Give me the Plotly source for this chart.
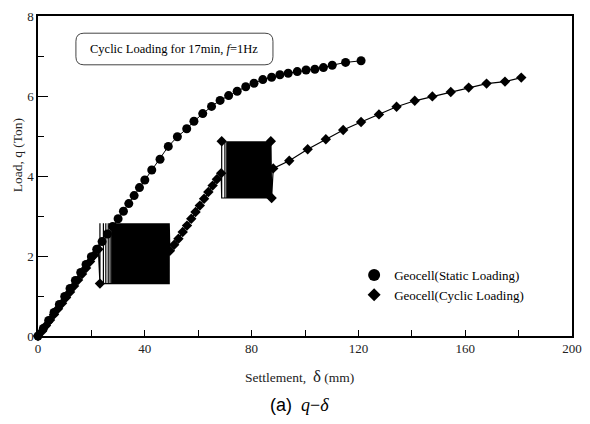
import numpy as np
import plotly.graph_objects as go

# ---------------- data ----------------
static_delta = [0, 2, 4, 6, 8, 10, 12, 14, 16, 18, 20, 22, 24, 26, 28, 30, 32, 34, 36, 38, 40,
                42.6, 45.7, 48.8, 52.2, 55.7, 58.4, 61.7, 65.0, 68.2, 71.4, 74.6, 77.8, 80.9,
                84.2, 87.5, 90.6, 93.7, 97.1, 100.4, 103.7, 106.9, 110.2, 115.2, 121.0]
static_q = [0, 0.19, 0.39, 0.59, 0.79, 0.99, 1.19, 1.39, 1.59, 1.79, 1.98, 2.17, 2.36, 2.55, 2.74,
            2.93, 3.12, 3.31, 3.51, 3.71, 3.9, 4.15, 4.42, 4.74, 4.98, 5.18, 5.37, 5.56, 5.74,
            5.89, 6.01, 6.12, 6.23, 6.32, 6.41, 6.47, 6.53, 6.57, 6.61, 6.65, 6.67, 6.71, 6.77,
            6.84, 6.88]

# cyclic test: monotonic parts between the two cyclic blocks
cyc_pre_delta = [0, 1.5, 3, 4.5, 6, 7.5, 9, 10.5, 12, 13.5, 15, 16.5, 18, 19.5, 21, 22.6]
cyc_pre_q = [0, 0.12, 0.26, 0.4, 0.54, 0.68, 0.82, 0.96, 1.1, 1.25, 1.4, 1.55, 1.7, 1.86, 2.02, 2.17]

cyc_mid_delta = [49.4, 51.0, 52.6, 54.2, 55.8, 57.4, 59.0, 60.6, 62.2, 63.8, 65.4, 67.0, 68.6]
cyc_mid_q = [2.13, 2.28, 2.43, 2.6, 2.76, 2.93, 3.1, 3.26, 3.43, 3.6, 3.76, 3.92, 4.07]

cyc_post_delta = [88.1, 94.1, 101.0, 107.8, 114.3, 121.0, 127.7, 134.3, 141.1, 147.7, 154.6,
                  161.3, 168.0, 174.9, 181.0]
cyc_post_q = [4.19, 4.38, 4.67, 4.92, 5.15, 5.35, 5.54, 5.73, 5.88, 5.99, 6.10, 6.21, 6.31,
              6.36, 6.46]

# cyclic loading blocks (17 min, f = 1 Hz): leading sparse cycles, dense cycle span, load range
block1_lead = [23.2, 24.5, 25.4, 26.3, 27.0]
block1_span = (27.6, 49.4)
block1_cycles = 260
block1_q = (1.31, 2.82)

block2_lead = [68.8, 70.0]
block2_span = (70.7, 87.5)
block2_cycles = 200
block2_q = (3.45, 4.87)

cyc_corner_delta = [23.2, 68.8, 87.2, 87.5]
cyc_corner_q = [1.31, 4.87, 4.87, 3.45]

x_ticks = [0, 40, 80, 120, 160, 200]
y_ticks = [0, 2, 4, 6, 8]


def block_path(lead, span, n, qr):
    xs = list(lead) + list(np.linspace(span[0], span[1], n))
    px, py = [], []
    for x in xs:
        px += [x, x, x]
        py += [qr[0], qr[1], qr[0]]
    return px, py


b1x, b1y = block_path(block1_lead, block1_span, block1_cycles, block1_q)
b2x, b2y = block_path(block2_lead, block2_span, block2_cycles, block2_q)

path_x = cyc_pre_delta + b1x + cyc_mid_delta + b2x + cyc_post_delta
path_y = cyc_pre_q + b1y + cyc_mid_q + b2y + cyc_post_q

mk_x = cyc_pre_delta + cyc_mid_delta + cyc_post_delta + cyc_corner_delta
mk_y = cyc_pre_q + cyc_mid_q + cyc_post_q + cyc_corner_q

SERIF = "Liberation Serif, Times New Roman, serif"

fig = go.Figure()

# cyclic loading line (incl. cycles)
fig.add_trace(go.Scatter(x=path_x, y=path_y, mode="lines",
                         line=dict(color="black", width=1.2), showlegend=False,
                         cliponaxis=False, hoverinfo="skip"))
fig.add_trace(go.Scatter(x=mk_x, y=mk_y, mode="markers",
                         marker=dict(symbol="diamond", size=8, color="black"),
                         showlegend=False, cliponaxis=False))
# static loading
fig.add_trace(go.Scatter(x=static_delta, y=static_q, mode="lines+markers",
                         line=dict(color="black", width=1),
                         marker=dict(symbol="circle", size=9, color="black"),
                         showlegend=False, cliponaxis=False))

# legend-only entries (markers only)
fig.add_trace(go.Scatter(x=[None], y=[None], mode="markers", name="Geocell(Static Loading)",
                         marker=dict(symbol="circle", size=12, color="black")))
fig.add_trace(go.Scatter(x=[None], y=[None], mode="markers", name="Geocell(Cyclic Loading)",
                         marker=dict(symbol="diamond", size=10, color="black")))

# rounded box for note (data coords)
bx0, bx1, by0, by1 = 14.2, 88.0, 6.78, 7.57
rx, ry = 3.0, 0.2
path = (f"M {bx0+rx},{by1} L {bx1-rx},{by1} Q {bx1},{by1} {bx1},{by1-ry} "
        f"L {bx1},{by0+ry} Q {bx1},{by0} {bx1-rx},{by0} L {bx0+rx},{by0} "
        f"Q {bx0},{by0} {bx0},{by0+ry} L {bx0},{by1-ry} Q {bx0},{by1} {bx0+rx},{by1} Z")
fig.add_shape(type="path", path=path, xref="x", yref="y",
              line=dict(color="#444", width=1), fillcolor="white", layer="above")
fig.add_annotation(x=(bx0 + bx1) / 2, y=(by0 + by1) / 2, xref="x", yref="y",
                   text="Cyclic Loading for 17min, <i>f</i>=1Hz", showarrow=False,
                   font=dict(family=SERIF, size=12.5, color="black"))

# axis titles and caption
fig.add_annotation(x=-0.0385, y=0.566, xref="paper", yref="paper", text="Load, q (Ton)",
                   textangle=-90, showarrow=False, xanchor="center", yanchor="middle",
                   font=dict(family=SERIF, size=13.5, color="#222"))
fig.add_annotation(x=0.49, y=-0.125, xref="paper", yref="paper",
                   text="Settlement,  <span style='font-size:17px'>δ</span> (mm)",
                   showarrow=False, xanchor="center", yanchor="middle",
                   font=dict(family=SERIF, size=13.5, color="#222"))
fig.add_annotation(x=0.49, y=-0.2156, xref="paper", yref="paper",
                   text="<span style='font-family:Liberation Sans, Arial, sans-serif'>(a)</span>  "
                        "<i>q</i>−<i>δ</i>",
                   showarrow=False, xanchor="center", yanchor="middle",
                   font=dict(family=SERIF, size=18, color="black"))

fig.update_xaxes(range=[0, 200], tickvals=x_ticks, ticks="inside", ticklen=6,
                 tickcolor="black", tickwidth=1, showline=True, linecolor="black",
                 linewidth=1.5, mirror=True, showgrid=False, zeroline=False,
                 ticklabeloverflow="allow", automargin=False,
                 minor=dict(dtick=20, ticks="inside", ticklen=6, tickcolor="black"),
                 tickfont=dict(family=SERIF, size=13, color="#222"))
fig.update_yaxes(range=[0, 8], tickvals=y_ticks, ticks="inside", ticklen=10,
                 tickcolor="black", tickwidth=1, showline=True, linecolor="black",
                 linewidth=1.5, mirror=True, showgrid=False, zeroline=False,
                 ticklabeloverflow="allow", automargin=False,
                 minor=dict(dtick=1, ticks="inside", ticklen=6, tickcolor="black"),
                 tickfont=dict(family=SERIF, size=13, color="#222"))

# the page body keeps its default 8px margin: size the figure so the page fits the window
fig.update_layout(
    width=574, height=408,
    margin=dict(l=30, r=10, t=8, b=80, autoexpand=False),
    paper_bgcolor="white", plot_bgcolor="white",
    legend=dict(x=0.592, y=0.2375, xanchor="left", yanchor="top",
                font=dict(family=SERIF, size=13, color="black"),
                bgcolor="rgba(0,0,0,0)", borderwidth=0, tracegroupgap=0),
    showlegend=True,
)

fig.write_html("out.html")
